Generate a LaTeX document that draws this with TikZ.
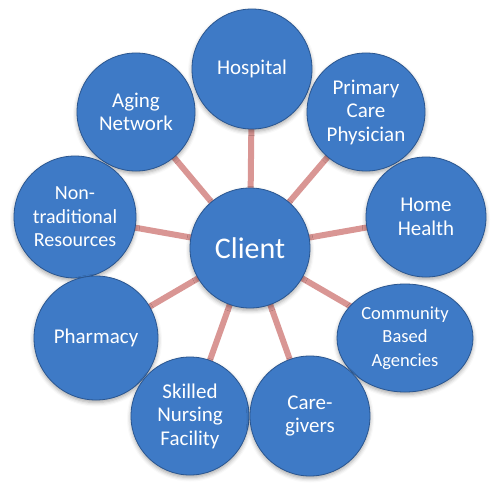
\documentclass[tikz,border=0pt]{standalone}
\usepackage{fontspec}
\setmainfont{Carlito}
\usetikzlibrary{shadows.blur,backgrounds,shapes.geometric}
\definecolor{ballin}{HTML}{3E7AC6}
\definecolor{ballmid}{HTML}{3468AC}
\definecolor{ballout}{HTML}{2A5690}
\definecolor{spoke}{HTML}{D99694}
\pgfdeclareradialshading{ball}{\pgfpoint{0bp}{3bp}}{color(0bp)=(ballin); color(30bp)=(ballin); color(44bp)=(ballmid); color(50bp)=(ballout)}
\begin{document}
\begin{tikzpicture}[x=1pt,y=1pt,
  ball/.style={circle, draw=ballout, line width=0.8pt, shading=ball,
    minimum size=120pt, inner sep=0pt, text=white, align=center,
    font=\fontsize{21}{23.5}\selectfont,
    blur shadow={shadow xshift=0pt, shadow yshift=-2.5pt, shadow blur radius=4pt, shadow opacity=35}},
  spokeline/.style={draw=spoke, line width=6pt}]
\useasboundingbox (0,0) rectangle (498,491);
\node[ball, font=\fontsize{30}{34}\selectfont] (client) at (250,243) {Client};
\node[ball] (hosp) at (252,422) {Hospital};
\node[ball, minimum size=118pt] (aging) at (136,379) {Aging\\Network};
\node[ball, minimum size=118pt] (pcp) at (366,379) {Primary\\Care\\Physician};
\node[ball, minimum size=122pt, font=\fontsize{20}{23.5}\selectfont] (nontrad) at (75,274) {Non-\\traditional\\Resources};
\node[ball] (home) at (426,274) {Home\\Health};
\node[ball, minimum size=124pt] (pharm) at (96,153) {Pharmacy};
\node[ball, ellipse, minimum width=136pt, minimum height=108pt, font=\fontsize{18.5}{23.5}\selectfont] (comm) at (405,153) {Community\\Based\\Agencies};
\node[ball, minimum size=118pt] (snf) at (190,75) {Skilled\\Nursing\\Facility};
\node[ball] (care) at (310,75) {Care-\\givers};
\begin{pgfonlayer}{background}
  \foreach \n in {hosp,aging,pcp,nontrad,home,pharm,comm,snf,care}
    \path[spokeline] (client.center) -- (\n.center);
\end{pgfonlayer}
\end{tikzpicture}
\end{document}
